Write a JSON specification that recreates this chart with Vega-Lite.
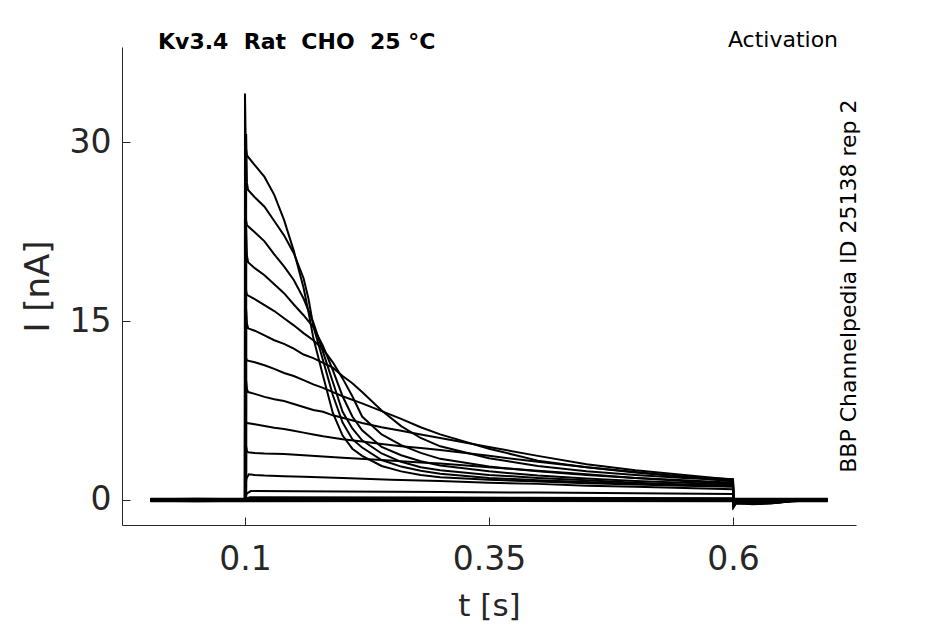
{
  "$schema": "https://vega.github.io/schema/vega-lite/v6.json",
  "width": 734,
  "height": 478,
  "autosize": {"type": "none"},
  "padding": {"left": 122, "top": 47, "right": 89, "bottom": 99},
  "background": "white",
  "config": {
    "view": {"stroke": null},
    "font": "DejaVu Sans",
    "axis": {
      "grid": false,
      "domainColor": "#262626",
      "tickColor": "#262626",
      "labelColor": "#262626",
      "titleColor": "#262626",
      "labelFont": "DejaVu Sans",
      "titleFont": "DejaVu Sans",
      "labelFontSize": 33,
      "titleFontSize": 31,
      "titleFontWeight": "normal",
      "tickSize": -8,
      "domainWidth": 1,
      "tickWidth": 1
    }
  },
  "layer": [
    {
      "data": {"values": [
        {"k":1,"t":0.003,"i":0.08},{"k":1,"t":0.05,"i":0.03},{"k":1,"t":0.0999,"i":0.08},
        {"k":1,"t":0.1,"i":34.1},{"k":1,"t":0.1008,"i":29.6},{"k":1,"t":0.102,"i":28.9},
        {"k":1,"t":0.11,"i":28.1},{"k":1,"t":0.12,"i":27.1},{"k":1,"t":0.13,"i":25.6},{"k":1,"t":0.14,"i":23.5},
        {"k":1,"t":0.15,"i":20.9},{"k":1,"t":0.16,"i":17.8},{"k":1,"t":0.165,"i":15.8},{"k":1,"t":0.17,"i":13.6},
        {"k":1,"t":0.18,"i":10.4},{"k":1,"t":0.19,"i":7.3},{"k":1,"t":0.2,"i":5.4},{"k":1,"t":0.21,"i":4.3},
        {"k":1,"t":0.22,"i":3.7},{"k":1,"t":0.24,"i":2.85},{"k":1,"t":0.26,"i":2.4},{"k":1,"t":0.28,"i":2.1},
        {"k":1,"t":0.3,"i":1.9},{"k":1,"t":0.35,"i":1.7},{"k":1,"t":0.4,"i":1.55},{"k":1,"t":0.45,"i":1.4},
        {"k":1,"t":0.5,"i":1.3},{"k":1,"t":0.55,"i":1.2},{"k":1,"t":0.6,"i":1.1},
        {"k":1,"t":0.6005,"i":-0.6},{"k":1,"t":0.603,"i":-0.25},{"k":1,"t":0.62,"i":-0.35},{"k":1,"t":0.64,"i":-0.28},{"k":1,"t":0.66,"i":-0.1},{"k":1,"t":0.697,"i":0.02},

        {"k":2,"t":0.003,"i":-0.08},{"k":2,"t":0.05,"i":-0.03},{"k":2,"t":0.1011,"i":-0.08},
        {"k":2,"t":0.1012,"i":30.7},{"k":2,"t":0.102,"i":26.6},{"k":2,"t":0.1032,"i":26.0},
        {"k":2,"t":0.11,"i":25.4},{"k":2,"t":0.12,"i":24.6},{"k":2,"t":0.13,"i":23.4},{"k":2,"t":0.14,"i":22.2},
        {"k":2,"t":0.15,"i":20.7},{"k":2,"t":0.16,"i":18.6},{"k":2,"t":0.165,"i":16.9},{"k":2,"t":0.17,"i":14.6},
        {"k":2,"t":0.18,"i":11.7},{"k":2,"t":0.19,"i":8.8},{"k":2,"t":0.2,"i":6.5},{"k":2,"t":0.21,"i":5.1},
        {"k":2,"t":0.22,"i":4.4},{"k":2,"t":0.24,"i":3.35},{"k":2,"t":0.26,"i":2.8},{"k":2,"t":0.28,"i":2.45},
        {"k":2,"t":0.3,"i":2.2},{"k":2,"t":0.35,"i":1.85},{"k":2,"t":0.4,"i":1.65},{"k":2,"t":0.45,"i":1.5},
        {"k":2,"t":0.5,"i":1.35},{"k":2,"t":0.55,"i":1.25},{"k":2,"t":0.6,"i":1.15},
        {"k":2,"t":0.6005,"i":-0.55},{"k":2,"t":0.603,"i":-0.2},{"k":2,"t":0.62,"i":-0.3},{"k":2,"t":0.64,"i":-0.25},{"k":2,"t":0.66,"i":-0.08},{"k":2,"t":0.697,"i":-0.02},

        {"k":3,"t":0.003,"i":0.08},{"k":3,"t":0.05,"i":0.05},{"k":3,"t":0.0999,"i":0.08},
        {"k":3,"t":0.1,"i":26.5},{"k":3,"t":0.1008,"i":23.6},{"k":3,"t":0.102,"i":23.05},
        {"k":3,"t":0.11,"i":22.45},{"k":3,"t":0.12,"i":21.7},{"k":3,"t":0.13,"i":20.6},{"k":3,"t":0.14,"i":19.6},
        {"k":3,"t":0.15,"i":18.45},{"k":3,"t":0.16,"i":16.9},{"k":3,"t":0.17,"i":14.9},{"k":3,"t":0.18,"i":12.4},
        {"k":3,"t":0.19,"i":9.9},{"k":3,"t":0.2,"i":7.4},{"k":3,"t":0.21,"i":6.0},{"k":3,"t":0.22,"i":5.0},
        {"k":3,"t":0.24,"i":3.9},{"k":3,"t":0.26,"i":3.2},{"k":3,"t":0.28,"i":2.75},{"k":3,"t":0.3,"i":2.5},
        {"k":3,"t":0.35,"i":2.1},{"k":3,"t":0.4,"i":1.85},{"k":3,"t":0.45,"i":1.65},{"k":3,"t":0.5,"i":1.45},
        {"k":3,"t":0.55,"i":1.3},{"k":3,"t":0.6,"i":1.2},
        {"k":3,"t":0.6005,"i":-0.6},{"k":3,"t":0.603,"i":-0.3},{"k":3,"t":0.62,"i":-0.32},{"k":3,"t":0.64,"i":-0.27},{"k":3,"t":0.66,"i":-0.1},{"k":3,"t":0.697,"i":0.03},

        {"k":4,"t":0.003,"i":-0.08},{"k":4,"t":0.05,"i":-0.05},{"k":4,"t":0.1011,"i":-0.08},
        {"k":4,"t":0.1012,"i":22.8},{"k":4,"t":0.102,"i":20.5},{"k":4,"t":0.1032,"i":19.95},
        {"k":4,"t":0.11,"i":19.45},{"k":4,"t":0.12,"i":18.85},{"k":4,"t":0.13,"i":18.1},{"k":4,"t":0.14,"i":17.35},
        {"k":4,"t":0.15,"i":16.4},{"k":4,"t":0.16,"i":15.5},{"k":4,"t":0.17,"i":14.5},{"k":4,"t":0.18,"i":12.9},
        {"k":4,"t":0.19,"i":10.9},{"k":4,"t":0.2,"i":8.7},{"k":4,"t":0.21,"i":7.0},{"k":4,"t":0.22,"i":5.85},
        {"k":4,"t":0.24,"i":4.45},{"k":4,"t":0.26,"i":3.75},{"k":4,"t":0.28,"i":3.25},{"k":4,"t":0.3,"i":2.9},
        {"k":4,"t":0.35,"i":2.4},{"k":4,"t":0.4,"i":2.05},{"k":4,"t":0.45,"i":1.8},{"k":4,"t":0.5,"i":1.6},
        {"k":4,"t":0.55,"i":1.45},{"k":4,"t":0.6,"i":1.3},
        {"k":4,"t":0.6005,"i":-0.5},{"k":4,"t":0.603,"i":-0.22},{"k":4,"t":0.62,"i":-0.3},{"k":4,"t":0.64,"i":-0.25},{"k":4,"t":0.66,"i":-0.1},{"k":4,"t":0.697,"i":-0.03},

        {"k":5,"t":0.003,"i":0.06},{"k":5,"t":0.05,"i":0.02},{"k":5,"t":0.0999,"i":0.06},
        {"k":5,"t":0.1,"i":19.6},{"k":5,"t":0.1008,"i":17.7},{"k":5,"t":0.102,"i":17.2},
        {"k":5,"t":0.11,"i":16.85},{"k":5,"t":0.12,"i":16.35},{"k":5,"t":0.13,"i":15.85},{"k":5,"t":0.14,"i":15.25},
        {"k":5,"t":0.15,"i":14.65},{"k":5,"t":0.16,"i":14.0},{"k":5,"t":0.17,"i":13.4},{"k":5,"t":0.18,"i":12.65},
        {"k":5,"t":0.19,"i":11.55},{"k":5,"t":0.2,"i":10.2},{"k":5,"t":0.21,"i":8.7},{"k":5,"t":0.22,"i":7.0},
        {"k":5,"t":0.24,"i":5.5},{"k":5,"t":0.26,"i":4.6},{"k":5,"t":0.28,"i":3.95},{"k":5,"t":0.3,"i":3.45},
        {"k":5,"t":0.35,"i":2.8},{"k":5,"t":0.4,"i":2.4},{"k":5,"t":0.45,"i":2.1},{"k":5,"t":0.5,"i":1.85},
        {"k":5,"t":0.55,"i":1.65},{"k":5,"t":0.6,"i":1.45},
        {"k":5,"t":0.6005,"i":-0.45},{"k":5,"t":0.603,"i":-0.2},{"k":5,"t":0.62,"i":-0.28},{"k":5,"t":0.64,"i":-0.22},{"k":5,"t":0.66,"i":-0.08},{"k":5,"t":0.697,"i":0.02},

        {"k":6,"t":0.003,"i":-0.06},{"k":6,"t":0.05,"i":-0.02},{"k":6,"t":0.1011,"i":-0.06},
        {"k":6,"t":0.1012,"i":16.0},{"k":6,"t":0.102,"i":14.8},{"k":6,"t":0.1032,"i":14.4},
        {"k":6,"t":0.11,"i":14.2},{"k":6,"t":0.12,"i":13.8},{"k":6,"t":0.13,"i":13.4},{"k":6,"t":0.14,"i":13.1},
        {"k":6,"t":0.15,"i":12.7},{"k":6,"t":0.16,"i":12.2},{"k":6,"t":0.17,"i":11.9},{"k":6,"t":0.18,"i":11.5},
        {"k":6,"t":0.19,"i":11.1},{"k":6,"t":0.2,"i":10.4},{"k":6,"t":0.21,"i":9.8},{"k":6,"t":0.22,"i":9.05},
        {"k":6,"t":0.24,"i":7.5},{"k":6,"t":0.26,"i":6.2},{"k":6,"t":0.28,"i":5.2},{"k":6,"t":0.3,"i":4.5},
        {"k":6,"t":0.35,"i":3.5},{"k":6,"t":0.4,"i":2.85},{"k":6,"t":0.45,"i":2.4},{"k":6,"t":0.5,"i":2.1},
        {"k":6,"t":0.55,"i":1.85},{"k":6,"t":0.6,"i":1.65},
        {"k":6,"t":0.6005,"i":-0.4},{"k":6,"t":0.603,"i":-0.18},{"k":6,"t":0.62,"i":-0.25},{"k":6,"t":0.64,"i":-0.2},{"k":6,"t":0.66,"i":-0.07},{"k":6,"t":0.697,"i":-0.02},

        {"k":7,"t":0.003,"i":0.07},{"k":7,"t":0.05,"i":0.1},{"k":7,"t":0.0999,"i":0.07},
        {"k":7,"t":0.1,"i":13.0},{"k":7,"t":0.1008,"i":12.0},{"k":7,"t":0.102,"i":11.7},
        {"k":7,"t":0.11,"i":11.55},{"k":7,"t":0.12,"i":11.3},{"k":7,"t":0.13,"i":11.0},{"k":7,"t":0.14,"i":10.65},
        {"k":7,"t":0.15,"i":10.4},{"k":7,"t":0.16,"i":10.05},{"k":7,"t":0.17,"i":9.7},{"k":7,"t":0.18,"i":9.4},
        {"k":7,"t":0.19,"i":9.05},{"k":7,"t":0.2,"i":8.7},{"k":7,"t":0.22,"i":8.1},{"k":7,"t":0.24,"i":7.45},
        {"k":7,"t":0.26,"i":6.8},{"k":7,"t":0.28,"i":6.1},{"k":7,"t":0.3,"i":5.5},{"k":7,"t":0.35,"i":4.3},
        {"k":7,"t":0.4,"i":3.3},{"k":7,"t":0.45,"i":2.75},{"k":7,"t":0.5,"i":2.3},{"k":7,"t":0.55,"i":1.95},
        {"k":7,"t":0.6,"i":1.75},
        {"k":7,"t":0.6005,"i":-0.35},{"k":7,"t":0.603,"i":-0.15},{"k":7,"t":0.62,"i":-0.22},{"k":7,"t":0.64,"i":-0.18},{"k":7,"t":0.66,"i":-0.06},{"k":7,"t":0.697,"i":0.02},

        {"k":8,"t":0.003,"i":-0.07},{"k":8,"t":0.05,"i":-0.1},{"k":8,"t":0.1011,"i":-0.07},
        {"k":8,"t":0.1012,"i":10.0},{"k":8,"t":0.102,"i":9.3},{"k":8,"t":0.1032,"i":9.05},
        {"k":8,"t":0.11,"i":8.9},{"k":8,"t":0.12,"i":8.65},{"k":8,"t":0.13,"i":8.45},{"k":8,"t":0.14,"i":8.3},
        {"k":8,"t":0.15,"i":8.05},{"k":8,"t":0.16,"i":7.8},{"k":8,"t":0.17,"i":7.55},{"k":8,"t":0.18,"i":7.4},
        {"k":8,"t":0.19,"i":7.1},{"k":8,"t":0.2,"i":6.9},{"k":8,"t":0.22,"i":6.45},{"k":8,"t":0.24,"i":6.1},
        {"k":8,"t":0.26,"i":5.8},{"k":8,"t":0.28,"i":5.5},{"k":8,"t":0.3,"i":5.2},{"k":8,"t":0.35,"i":4.45},
        {"k":8,"t":0.4,"i":3.7},{"k":8,"t":0.45,"i":3.0},{"k":8,"t":0.5,"i":2.5},{"k":8,"t":0.55,"i":2.1},
        {"k":8,"t":0.6,"i":1.7},
        {"k":8,"t":0.6005,"i":-0.3},{"k":8,"t":0.603,"i":-0.12},{"k":8,"t":0.62,"i":-0.2},{"k":8,"t":0.64,"i":-0.15},{"k":8,"t":0.66,"i":-0.05},{"k":8,"t":0.697,"i":-0.02},

        {"k":9,"t":0.003,"i":0.05},{"k":9,"t":0.05,"i":0.08},{"k":9,"t":0.0999,"i":0.05},
        {"k":9,"t":0.1,"i":7.2},{"k":9,"t":0.1008,"i":6.6},{"k":9,"t":0.102,"i":6.45},
        {"k":9,"t":0.11,"i":6.35},{"k":9,"t":0.12,"i":6.2},{"k":9,"t":0.13,"i":6.05},{"k":9,"t":0.14,"i":5.95},
        {"k":9,"t":0.15,"i":5.8},{"k":9,"t":0.16,"i":5.65},{"k":9,"t":0.17,"i":5.5},{"k":9,"t":0.18,"i":5.35},
        {"k":9,"t":0.2,"i":5.1},{"k":9,"t":0.22,"i":4.9},{"k":9,"t":0.24,"i":4.7},{"k":9,"t":0.26,"i":4.5},
        {"k":9,"t":0.28,"i":4.35},{"k":9,"t":0.3,"i":4.2},{"k":9,"t":0.35,"i":3.7},{"k":9,"t":0.4,"i":3.2},
        {"k":9,"t":0.45,"i":2.75},{"k":9,"t":0.5,"i":2.35},{"k":9,"t":0.55,"i":1.95},{"k":9,"t":0.6,"i":1.55},
        {"k":9,"t":0.6005,"i":-0.25},{"k":9,"t":0.61,"i":-0.1},{"k":9,"t":0.64,"i":-0.12},{"k":9,"t":0.697,"i":0.03},

        {"k":10,"t":0.003,"i":-0.05},{"k":10,"t":0.05,"i":-0.08},{"k":10,"t":0.1011,"i":-0.05},
        {"k":10,"t":0.1012,"i":4.5},{"k":10,"t":0.102,"i":4.1},{"k":10,"t":0.1032,"i":4.0},
        {"k":10,"t":0.11,"i":3.95},{"k":10,"t":0.12,"i":3.9},{"k":10,"t":0.14,"i":3.85},{"k":10,"t":0.16,"i":3.75},
        {"k":10,"t":0.18,"i":3.65},{"k":10,"t":0.2,"i":3.55},{"k":10,"t":0.24,"i":3.35},{"k":10,"t":0.28,"i":3.15},
        {"k":10,"t":0.3,"i":3.05},{"k":10,"t":0.35,"i":2.75},{"k":10,"t":0.4,"i":2.45},{"k":10,"t":0.45,"i":2.15},
        {"k":10,"t":0.5,"i":1.85},{"k":10,"t":0.55,"i":1.6},{"k":10,"t":0.6,"i":1.35},
        {"k":10,"t":0.6005,"i":-0.2},{"k":10,"t":0.61,"i":-0.08},{"k":10,"t":0.64,"i":-0.1},{"k":10,"t":0.697,"i":-0.03},

        {"k":11,"t":0.003,"i":0.08},{"k":11,"t":0.05,"i":0.05},{"k":11,"t":0.0999,"i":0.08},
        {"k":11,"t":0.1,"i":0.8},{"k":11,"t":0.1015,"i":1.8},{"k":11,"t":0.104,"i":2.15},
        {"k":11,"t":0.11,"i":2.1},{"k":11,"t":0.12,"i":2.05},{"k":11,"t":0.14,"i":2.0},{"k":11,"t":0.16,"i":1.95},
        {"k":11,"t":0.2,"i":1.85},{"k":11,"t":0.25,"i":1.7},{"k":11,"t":0.3,"i":1.6},{"k":11,"t":0.35,"i":1.45},
        {"k":11,"t":0.4,"i":1.35},{"k":11,"t":0.45,"i":1.2},{"k":11,"t":0.5,"i":1.1},{"k":11,"t":0.55,"i":1.0},
        {"k":11,"t":0.6,"i":0.9},
        {"k":11,"t":0.6005,"i":-0.15},{"k":11,"t":0.61,"i":-0.05},{"k":11,"t":0.64,"i":-0.08},{"k":11,"t":0.697,"i":0.02},

        {"k":12,"t":0.003,"i":-0.08},{"k":12,"t":0.05,"i":-0.05},{"k":12,"t":0.0999,"i":-0.08},
        {"k":12,"t":0.1,"i":0.2},{"k":12,"t":0.102,"i":0.55},{"k":12,"t":0.106,"i":0.75},
        {"k":12,"t":0.2,"i":0.72},{"k":12,"t":0.3,"i":0.67},{"k":12,"t":0.4,"i":0.62},{"k":12,"t":0.5,"i":0.56},
        {"k":12,"t":0.6,"i":0.5},
        {"k":12,"t":0.6005,"i":-0.1},{"k":12,"t":0.61,"i":0.0},{"k":12,"t":0.64,"i":-0.05},{"k":12,"t":0.697,"i":-0.02},

        {"k":13,"t":0.003,"i":0.04},{"k":13,"t":0.05,"i":0.0},{"k":13,"t":0.0999,"i":0.04},
        {"k":13,"t":0.1,"i":0.05},{"k":13,"t":0.105,"i":0.22},{"k":13,"t":0.3,"i":0.2},{"k":13,"t":0.6,"i":0.15},
        {"k":13,"t":0.6005,"i":-0.05},{"k":13,"t":0.61,"i":0.03},{"k":13,"t":0.64,"i":0.0},{"k":13,"t":0.697,"i":0.04},

        {"k":14,"t":0.003,"i":0.1},{"k":14,"t":0.0999,"i":0.1},{"k":14,"t":0.3,"i":0.12},{"k":14,"t":0.6,"i":0.1},{"k":14,"t":0.697,"i":0.1},
        {"k":15,"t":0.003,"i":-0.1},{"k":15,"t":0.0999,"i":-0.1},{"k":15,"t":0.3,"i":-0.08},{"k":15,"t":0.6,"i":-0.1},{"k":15,"t":0.697,"i":-0.1},
        {"k":16,"t":0.003,"i":0.0},{"k":16,"t":0.3,"i":0.0},{"k":16,"t":0.6,"i":0.0},{"k":16,"t":0.697,"i":0.0}
      ]},
      "mark": {"type": "line", "color": "black", "strokeWidth": 2, "clip": true},
      "encoding": {
        "x": {
          "field": "t", "type": "quantitative",
          "scale": {"domain": [-0.026, 0.726], "nice": false, "zero": false},
          "axis": {"values": [0.1, 0.35, 0.6], "format": "~g", "title": "t [s]", "labelPadding": 26, "titlePadding": 15, "titleFontSize": 31}
        },
        "y": {
          "field": "i", "type": "quantitative",
          "scale": {"domain": [-2.1, 38], "nice": false, "zero": false},
          "axis": {"values": [0, 15, 30], "title": "I [nA]", "labelPadding": 19, "titlePadding": 14, "titleFontSize": 34}
        },
        "detail": {"field": "k", "type": "nominal"}
      }
    },
    {
      "data": {"values": [{"label": "Kv3.4\u00a0\u00a0Rat\u00a0\u00a0CHO\u00a0\u00a025 °C", "t": 0.0109, "i": 37.85}]},
      "mark": {"type": "text", "align": "left", "baseline": "alphabetic", "font": "DejaVu Sans", "fontSize": 22, "fontWeight": "bold", "color": "black"},
      "encoding": {
        "x": {"field": "t", "type": "quantitative"},
        "y": {"field": "i", "type": "quantitative"},
        "text": {"field": "label"}
      }
    },
    {
      "data": {"values": [{"label": "Activation", "t": 0.7076, "i": 37.98}]},
      "mark": {"type": "text", "align": "right", "baseline": "alphabetic", "font": "DejaVu Sans", "fontSize": 22, "color": "black"},
      "encoding": {
        "x": {"field": "t", "type": "quantitative"},
        "y": {"field": "i", "type": "quantitative"},
        "text": {"field": "label"}
      }
    },
    {
      "data": {"values": [{"label": "BBP Channelpedia ID 25138 rep 2", "t": 0.7189, "i": 17.94}]},
      "mark": {"type": "text", "align": "center", "baseline": "middle", "angle": 270, "font": "DejaVu Sans", "fontSize": 22, "color": "black"},
      "encoding": {
        "x": {"field": "t", "type": "quantitative"},
        "y": {"field": "i", "type": "quantitative"},
        "text": {"field": "label"}
      }
    }
  ]
}
